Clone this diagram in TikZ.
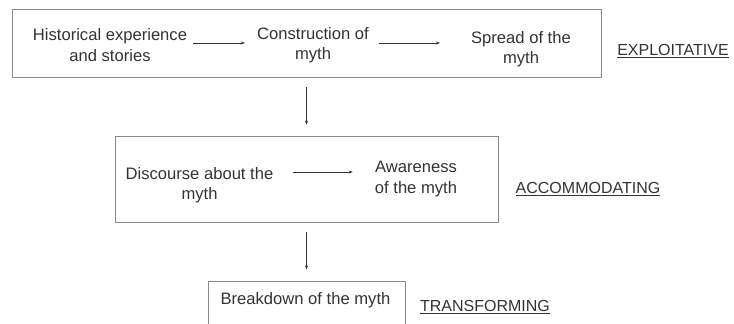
\documentclass[tikz,border=0pt]{standalone}
\usepackage{fontspec}
\setmainfont{Liberation Sans}
\usetikzlibrary{arrows.meta}
\definecolor{txt}{HTML}{333333}
\definecolor{bord}{HTML}{8A8A8A}
\begin{document}
\begin{tikzpicture}[x=1pt,y=-1pt,
  lbl/.style={inner sep=0pt,text=txt,align=center,font=\fontsize{16.6}{20.5}\selectfont},
  stage/.style={inner sep=0pt,text=txt,anchor=base,font=\fontsize{16}{20}\selectfont},
  boxx/.style={draw=bord,line width=0.9pt,inner sep=0pt},
  arr/.style={draw=txt,line width=0.7pt,-{Stealth[length=4pt,width=3pt]}},
  uline/.style={draw=txt,line width=0.8pt}]
\useasboundingbox (0,0) rectangle (734,324);
% boxes
\node[boxx,minimum width=589pt,minimum height=68pt] (box1) at (306.5,43) {};
\node[boxx,minimum width=383pt,minimum height=86pt] (box2) at (306.5,179) {};
\node[boxx,minimum width=197pt,minimum height=80pt] (box3) at (306.5,321) {};
% texts
\node[lbl] (hist) at (110,45) {Historical experience\\and stories};
\node[lbl] (constr) at (313,45) {Construction of\\myth};
\node[lbl] (spread) at (521,49) {Spread of the\\myth};
\node[lbl] (disc) at (199.5,185) {Discourse about the\\myth};
\node[lbl] (aware) at (416,179) {Awareness\\of the myth};
\node[lbl] (brk) at (305.5,300) {Breakdown of the myth};
% stage labels
\node[stage] (l1) at (673,55) {EXPLOITATIVE};
\node[stage] (l2) at (588,193) {ACCOMMODATING};
\node[stage] (l3) at (485,311) {TRANSFORMING};
\foreach \l in {l1,l2,l3}{\draw[uline] ([yshift=-2.5pt]\l.base west) -- ([yshift=-2.5pt]\l.base east);}
% arrows
\draw[arr] ([xshift=6pt,yshift=2pt]hist.east) -- ([xshift=-12pt,yshift=2pt]constr.west);
\draw[arr] ([xshift=10pt,yshift=2pt]constr.east) -- ([xshift=-31pt,yshift=6pt]spread.west);
\draw[arr] ([xshift=19pt,yshift=13pt]disc.east) -- ([xshift=-22pt,yshift=7pt]aware.west);
\draw[arr] ([yshift=-10pt]box1.south) -- ([yshift=11pt]box2.north);
\draw[arr] ([yshift=-10pt]box2.south) -- ([yshift=11pt]box3.north);
\end{tikzpicture}
\end{document}
